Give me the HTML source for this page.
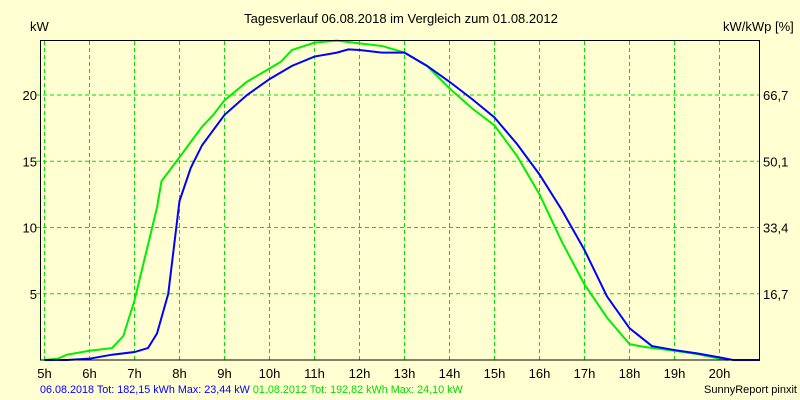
<!DOCTYPE html>
<html><head><meta charset="utf-8"><style>
body{margin:0;background:#ffffd2;}
svg{display:block;font-family:"Liberation Sans",sans-serif;}
</style></head><body>
<svg id="chart" width="800" height="400" viewBox="0 0 800 400">
<rect width="800" height="400" fill="#ffffd2"/>
<text x="401" y="23" font-size="13" text-anchor="middle">Tagesverlauf 06.08.2018 im Vergleich zum 01.08.2012</text>
<text x="30" y="31" font-size="13">kW</text>
<text x="723" y="31" font-size="13">kW/kWp [%]</text>
<g id="grid"></g>
<g id="series"></g>
<rect x="40.5" y="40.5" width="719" height="319.5" fill="none" stroke="#000" stroke-width="1"/>
<g id="labels" font-size="13"></g>
<text x="40" y="393" font-size="10.8"><tspan fill="#0000ff">06.08.2018 Tot: 182,15 kWh Max: 23,44 kW</tspan><tspan fill="#00dd00"> 01.08.2012 Tot: 192,82 kWh Max: 24,10 kW</tspan></text>
<text x="797" y="393" font-size="11" text-anchor="end">SunnyReport pinxit</text>
</svg>
<script>
const hourTicks=[5,6,7,8,9,10,11,12,13,14,15,16,17,18,19,20];
const kwTicks=[5,10,15,20];
const pctLabels=["16,7","33,4","50,1","66,7"];
const blueHours=[5,5.5,6,6.5,7,7.3,7.5,7.75,8,8.25,8.5,9,9.5,10,10.5,11,11.5,11.75,12,12.5,13,13.5,14,14.5,15,15.5,16,16.5,17,17.5,18,18.5,19,19.5,20,20.3,20.9];
const blueKw=[0,0,0.1,0.4,0.6,0.9,2,5,12,14.5,16.2,18.5,20,21.2,22.2,22.9,23.2,23.44,23.4,23.2,23.2,22.2,21,19.7,18.3,16.3,14,11.3,8.3,4.8,2.4,1.05,0.75,0.5,0.2,0,0];
const greenHours=[5,5.3,5.5,6,6.5,6.75,7,7.25,7.5,7.6,8,8.5,8.75,9,9.5,10,10.25,10.5,11,11.5,12,12.5,13,13.5,14,14.5,15,15.5,16,16.5,17,17.5,18,18.3,19,19.5,20,20.2];
const greenKw=[0,0.1,0.4,0.7,0.9,1.8,4.5,8,11.5,13.5,15.3,17.6,18.5,19.6,21,22,22.5,23.4,23.95,24.1,23.9,23.7,23.2,22.2,20.5,19,17.7,15.4,12.5,8.9,5.7,3.2,1.2,1.0,0.7,0.45,0.1,0];
const X=h=>44.5+(h-5)*45;
const Y=v=>360-v*13.25;
const NS="http://www.w3.org/2000/svg";
const grid=document.getElementById('grid'),labels=document.getElementById('labels'),series=document.getElementById('series');
function mk(tag,attrs,parent){const e=document.createElementNS(NS,tag);for(const k in attrs)e.setAttribute(k,attrs[k]);parent.appendChild(e);return e;}
hourTicks.forEach(h=>{
 const l=mk('line',{x1:X(h),x2:X(h),y1:41,y2:360,stroke:'#00e000','stroke-dasharray':'4,3'},grid);
 
 
 const t=mk('text',{x:X(h),y:378,'text-anchor':'middle'},labels);t.textContent=h+'h';
 
 
});
kwTicks.forEach((v,i)=>{
 const l=mk('line',{x1:36,x2:760,y1:Y(v),y2:Y(v),stroke:'#00e000','stroke-dasharray':'4,3'},grid);
 
 
 const t=mk('text',{x:37,y:Y(v)+5,'text-anchor':'end'},labels);t.textContent=v;
 
 
 const r=mk('text',{x:763,y:Y(v)+5},labels);r.textContent=pctLabels[i];
 
 
});
function line(hs,vs,color,name){
 const p=mk('polyline',{points:hs.map((h,i)=>X(h)+','+Y(vs[i])).join(' '),fill:'none',stroke:color,'stroke-width':2},series);
 
 
}
line(greenHours,greenKw,'#00ee00','series-2012-line');
line(blueHours,blueKw,'#0000ff','series-2018-line');
</script>
</body></html>
